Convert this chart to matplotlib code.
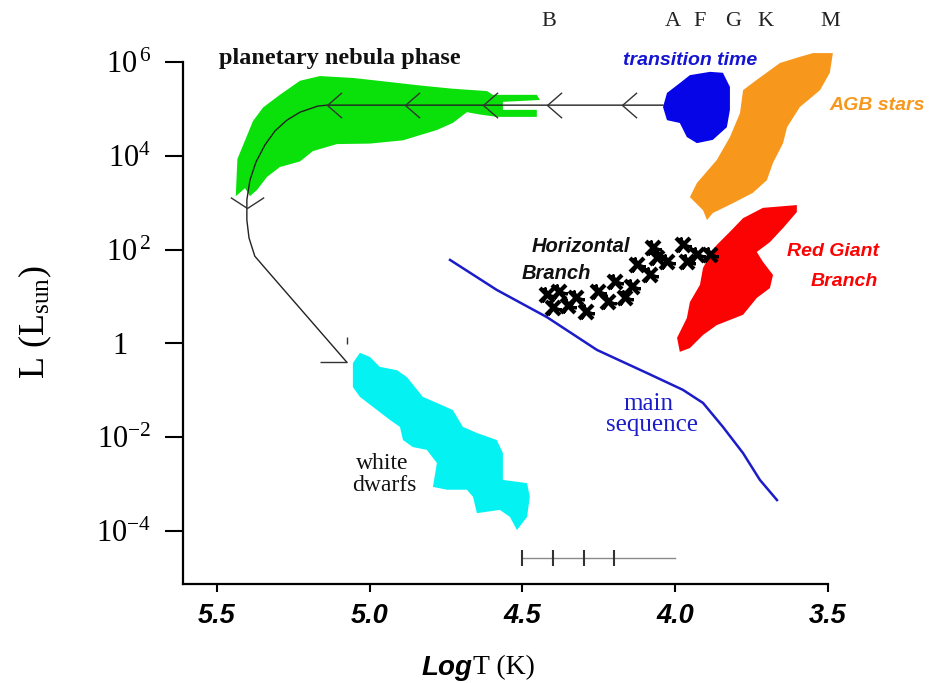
import numpy as np
import matplotlib
matplotlib.use("Agg")
import matplotlib.pyplot as plt
from matplotlib.path import Path

plt.rcParams["font.family"] = ["Liberation Serif", "DejaVu Serif"]
plt.rcParams["mathtext.fontset"] = "custom"
plt.rcParams["mathtext.rm"] = "Liberation Serif"
plt.rcParams["mathtext.it"] = "Liberation Serif:italic"
plt.rcParams["mathtext.bf"] = "Liberation Serif:bold"

# regions of the HR diagram, outlines as (log T, log L)
PN_T = [5.438, 5.433, 5.382, 5.349, 5.294, 5.228, 5.163, 5.055, 4.944, 4.836,
        4.728, 4.616, 4.597, 4.453, 4.443, 4.564, 4.564, 4.453, 4.453, 4.584,
        4.639, 4.682, 4.728, 4.780, 4.891, 5.000, 5.107, 5.186, 5.228, 5.294,
        5.336, 5.369, 5.392, 5.408, 5.438]
PN_L = [3.18, 3.93, 4.74, 5.03, 5.30, 5.60, 5.70, 5.66, 5.58, 5.50,
        5.43, 5.38, 5.30, 5.30, 5.19, 5.15, 4.98, 4.98, 4.83, 4.83,
        4.88, 4.93, 4.70, 4.55, 4.33, 4.26, 4.25, 4.10, 3.88, 3.76,
        3.55, 3.27, 3.14, 3.31, 3.14]

TT_T = [4.040, 4.027, 3.985, 3.952, 3.886, 3.844, 3.821, 3.821, 3.831, 3.877,
        3.929, 3.962, 3.985, 4.027]
TT_L = [5.04, 5.34, 5.55, 5.72, 5.79, 5.77, 5.47, 4.98, 4.61, 4.34,
        4.27, 4.40, 4.70, 4.76]

AGB_T = [3.549, 3.484, 3.494, 3.526, 3.592, 3.634, 3.647, 3.680, 3.700, 3.746,
         3.811, 3.877, 3.896, 3.909, 3.952, 3.929, 3.864, 3.821, 3.788, 3.778,
         3.733, 3.657, 3.592]
AGB_L = [6.19, 6.19, 5.77, 5.40, 5.04, 4.61, 4.27, 3.85, 3.48, 3.21,
         2.99, 2.78, 2.63, 2.84, 3.12, 3.42, 3.91, 4.40, 4.91, 5.40,
         5.62, 5.98, 6.11]

RGB_T = [3.602, 3.713, 3.778, 3.821, 3.864, 3.886, 3.909, 3.919, 3.952, 3.962,
         3.994, 3.985, 3.952, 3.909, 3.864, 3.778, 3.733, 3.690, 3.680, 3.713,
         3.733, 3.690, 3.647, 3.602]
RGB_L = [2.95, 2.89, 2.67, 2.38, 2.10, 1.89, 1.61, 1.25, 0.88, 0.54,
         0.12, -0.18, -0.10, 0.18, 0.39, 0.61, 0.97, 1.18, 1.46, 1.74,
         1.95, 2.16, 2.46, 2.80]

WD_T = [5.032, 4.999, 4.967, 4.911, 4.878, 4.826, 4.780, 4.728, 4.695, 4.649,
        4.584, 4.564, 4.564, 4.485, 4.476, 4.485, 4.518, 4.541, 4.574, 4.649,
        4.662, 4.682, 4.747, 4.793, 4.780, 4.813, 4.859, 4.891, 4.901, 4.934,
        4.976, 5.032, 5.055, 5.055]
WD_L = [-0.20, -0.29, -0.50, -0.57, -0.72, -1.14, -1.27, -1.42, -1.78, -1.91,
        -2.06, -2.34, -2.91, -2.98, -3.27, -3.70, -3.98, -3.70, -3.55, -3.62,
        -3.27, -3.12, -3.12, -3.06, -2.55, -2.27, -2.21, -2.06, -1.78, -1.63,
        -1.42, -1.14, -0.93, -0.42]

HB_T = [4.420, 4.380, 4.325, 4.400, 4.293, 4.253, 4.197, 4.220, 4.165, 4.125,
        4.083, 4.060, 4.027, 3.975, 3.962, 3.929, 3.886, 4.073, 4.350, 4.140]
HB_L = [1.03, 1.10, 0.97, 0.76, 0.67, 1.10, 1.31, 0.88, 0.97, 1.67,
        1.46, 1.82, 1.74, 2.10, 1.74, 1.89, 1.89, 2.03, 0.80, 1.20]

MS_T = [4.737, 4.584, 4.420, 4.256, 4.093, 3.975, 3.909, 3.844, 3.778, 3.723, 3.667]
MS_L = [1.78, 1.14, 0.56, -0.14, -0.63, -0.99, -1.27, -1.78, -2.34, -2.91, -3.34]

# evolutionary track of a low-mass star after the AGB
TRACK_T = [4.040, 5.140, 5.170, 5.228, 5.271, 5.310, 5.343, 5.372, 5.392, 5.402,
           5.402, 5.395, 5.376, 5.343, 5.075]
TRACK_L = [5.08, 5.08, 5.06, 4.93, 4.76, 4.53, 4.23, 3.87, 3.48, 3.06,
           2.63, 2.25, 1.86, 1.61, -0.40]
CHEVRON_T = [5.140, 4.885, 4.629, 4.420, 4.174]
CHEVRON_L = 5.08
TURN_T, TURN_L = 5.402, 2.89
END_T, END_L = 5.075, -0.40

SCALE_T = [4.5, 4.0]
SCALE_TICKS = [4.5, 4.4, 4.3, 4.2]
SCALE_L = -4.58

SPECTRAL = ["B", "A", "F", "G", "K", "M"]
SPECTRAL_T = [4.413, 4.007, 3.919, 3.811, 3.706, 3.493]
SPECTRAL_L = 6.86

XTICKS = [5.5, 5.0, 4.5, 4.0, 3.5]
XTICK_LABELS = ["5.5", "5.0", "4.5", "4.0", "3.5"]
YTICKS = [6, 4, 2, 0, -2, -4]
YTICK_LABELS = [r"$10^{\,6}$", r"$10^{4}$", r"$10^{\,2}$", "1   ",
                r"$10^{-2}$", r"$10^{-4}$"]


def lum(values):
    return 10.0 ** np.asarray(values, dtype=float)


fig = plt.figure(figsize=(9.32, 6.83), dpi=100)
ax = fig.add_axes([183 / 932, 99 / 683, 645 / 932, 522 / 683])
ax.set_yscale("log")
ax.set_xlim(5.611, 3.5)
ax.set_ylim(10 ** -5.13, 1e6)

for side in ("top", "right"):
    ax.spines[side].set_visible(False)
for side in ("left", "bottom"):
    ax.spines[side].set_linewidth(1.6)

ax.fill(PN_T, lum(PN_L), color="#0ae00a", lw=0, zorder=2, clip_on=False)
ax.fill(TT_T, lum(TT_L), color="#0505e8", lw=0, zorder=2, clip_on=False)
ax.fill(AGB_T, lum(AGB_L), color="#f7981d", lw=0, zorder=2, clip_on=False)
ax.fill(RGB_T, lum(RGB_L), color="#fc0303", lw=0, zorder=2, clip_on=False)
ax.fill(WD_T, lum(WD_L), color="#05f2f2", lw=0, zorder=2, clip_on=False)

ax.plot(MS_T, lum(MS_L), color="#1c1cc8", lw=1.8, zorder=3)

# horizontal branch drawn as rough black scribbles
ax.plot(HB_T, lum(HB_L), ls="none", marker="x", ms=10, mew=3.0, color="black", zorder=4)
ax.plot(HB_T, lum(HB_L), ls="none", marker=(3, 2, 20), ms=12, mew=2.2, color="black", zorder=4)

ax.plot(TRACK_T, lum(TRACK_L), color="#222222", lw=1.0, zorder=5)

chevron = Path([(1, 0.87), (0, 0), (1, -0.87)])
ax.plot(CHEVRON_T, lum([CHEVRON_L] * len(CHEVRON_T)), ls="none", marker=chevron,
        ms=21, mew=1.0, mfc="none", mec="#333333", zorder=5)
turn = Path([(-1, 0.65), (0, 0), (1, 0.65)])
ax.plot([TURN_T], lum([TURN_L]), ls="none", marker=turn, ms=24, mew=1.0,
        mfc="none", mec="#333333", zorder=5)
head = Path([(-1, 0), (0, 0), (0, 0.67), (0, 0.93)],
            [Path.MOVETO, Path.LINETO, Path.MOVETO, Path.LINETO])
ax.plot([END_T], lum([END_L]), ls="none", marker=head, ms=39, mew=1.0,
        mfc="none", mec="#333333", zorder=5)

# spectral-class scale bar
ax.plot(SCALE_T, lum([SCALE_L, SCALE_L]), color="#8a8a8a", lw=1.0, zorder=3)
ax.plot(SCALE_TICKS, lum([SCALE_L] * len(SCALE_TICKS)), ls="none", marker="|",
        ms=11, mew=1.5, color="#333333", zorder=3)

for letter, t in zip(SPECTRAL, SPECTRAL_T):
    ax.text(t, 10 ** SPECTRAL_L, letter, ha="center", va="center", fontsize=16,
            color="#222222")

sans_bi = dict(fontfamily="Liberation Sans", fontweight="bold", fontstyle="italic")
ax.text(5.097, 10 ** 6.085, "planetary nebula phase", ha="center", va="center",
        fontsize=17.5, fontweight="bold", color="#111111")
ax.text(3.952, 10 ** 6.04, "transition time", ha="center", va="center",
        fontsize=14, color="#1414d2", **sans_bi)
ax.text(3.494, 10 ** 5.08, "AGB stars", ha="left", va="center",
        fontsize=14, color="#f7981d", **sans_bi)
ax.text(3.484, 10 ** 1.95, "Red Giant", ha="center", va="center",
        fontsize=14, color="#fc0303", **sans_bi)
ax.text(3.448, 10 ** 1.31, "Branch", ha="center", va="center",
        fontsize=14, color="#fc0303", **sans_bi)
ax.text(4.469, 10 ** 2.06, "Horizontal", ha="left", va="center",
        fontsize=14.5, color="#111111", **sans_bi)
ax.text(4.502, 10 ** 1.50, "Branch", ha="left", va="center",
        fontsize=14.5, color="#111111", **sans_bi)
ax.text(4.089, 10 ** -1.29, "main", ha="center", va="center",
        fontsize=18, color="#1c1cc8")
ax.text(4.076, 10 ** -1.74, "sequence", ha="center", va="center",
        fontsize=18, color="#1c1cc8")
ax.text(4.960, 10 ** -2.57, "white", ha="center", va="center",
        fontsize=17, color="#111111")
ax.text(4.953, 10 ** -3.04, "dwarfs", ha="center", va="center",
        fontsize=17, color="#111111")

ax.set_xticks(XTICKS, labels=XTICK_LABELS, fontsize=19.5, **sans_bi)
ax.set_yticks(lum(YTICKS), labels=YTICK_LABELS, fontsize=22)
ax.minorticks_off()
ax.tick_params(axis="x", direction="out", length=6, width=1.5, pad=8)
ax.tick_params(axis="y", direction="out", length=13, width=1.5, pad=10)

fig.text(35 / 932, 1 - 322 / 683, r"L $(\mathrm{L}_{\mathrm{sun}})$", rotation=90,
         ha="center", va="center", fontsize=26)
fig.text(473 / 932, 1 - 668 / 683, "Log", ha="right", va="center", fontsize=20,
         **sans_bi)
fig.text(473 / 932, 1 - 668 / 683, "T (K)", ha="left", va="center", fontsize=20)

fig.savefig("out.png", dpi=100)
